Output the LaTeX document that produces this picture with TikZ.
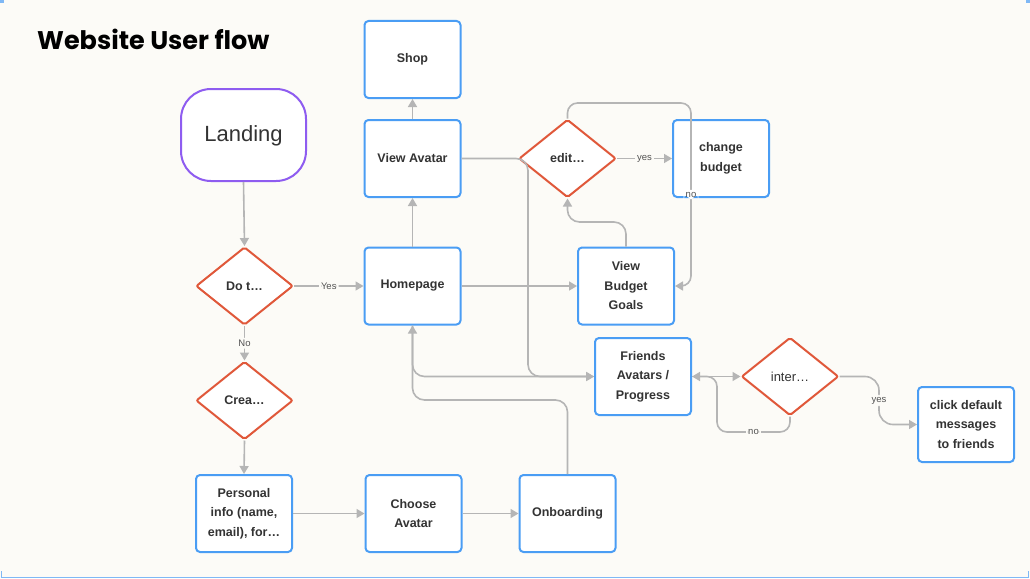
\documentclass[tikz,border=0pt]{standalone}
\usepackage{fontspec}
\setmainfont{Liberation Sans}
\newfontfamily\titlefont{Poppins}
\usetikzlibrary{shapes.geometric,arrows.meta}
\definecolor{bg}{HTML}{FCFBF7}
\definecolor{boxblue}{HTML}{4A9DF4}
\definecolor{dred}{HTML}{E0583A}
\definecolor{lpurple}{HTML}{8E5CF0}
\definecolor{edgegray}{HTML}{B5B5B5}
\definecolor{txt}{HTML}{333333}
\definecolor{frameblue}{HTML}{7FB8F5}
\begin{document}
\begin{tikzpicture}[x=1pt,y=-1pt,
  stepbox/.style={draw=boxblue,line width=2pt,fill=white,rounded corners=4pt,minimum width=96pt,minimum height=77pt,align=center,font=\fontsize{12.5}{19.5}\selectfont\bfseries,text=txt,inner sep=2pt},
  decision/.style={diamond,draw=dred,line width=2pt,fill=white,rounded corners=2pt,minimum width=97pt,minimum height=78pt,inner sep=0pt,font=\fontsize{12.5}{15}\selectfont\bfseries,text=txt},
  flow/.style={draw=edgegray,line width=1.6pt,rounded corners=12pt,-{Triangle[length=8pt,width=9pt]}},
  elabel/.style={fill=bg,font=\fontsize{9.5}{10}\selectfont,text=txt!85,inner sep=2pt}]
\useasboundingbox (0,0) rectangle (1030,578);
\fill[bg] (0,0) rectangle (1030,578);
% frame marks
\draw[frameblue,line width=1pt] (1.5,571) -- (1.5,577.5) -- (1028.5,577.5) -- (1028.5,571);
\fill[frameblue] (0,0) rectangle (4,3);
\fill[frameblue] (1026,0) rectangle (1030,3);
% title
\node[anchor=base west,inner sep=0pt,font=\titlefont\bfseries\fontsize{25.5}{30}\selectfont,text=black] (title) at (37,49.5) {Website User flow};
% nodes
\node[draw=lpurple,line width=2pt,fill=white,rounded corners=30pt,minimum width=125pt,minimum height=92pt,font=\fontsize{22}{26}\selectfont,text=txt,text depth=3pt] (land) at (243.5,135) {Landing};
\node[decision] (dot) at (244.5,286) {Do t…};
\node[decision] (crea) at (244.5,400.5) {Crea…};
\node[stepbox] (pers) at (244,513.5) {Personal\\info (name,\\email), for…};
\node[stepbox] (choose) at (413.5,513.5) {Choose\\Avatar};
\node[stepbox] (onb) at (567.5,513.5) {Onboarding};
\node[stepbox] (shop) at (412.5,59.5) {Shop};
\node[stepbox] (va) at (412.5,158.5) {View Avatar};
\node[stepbox] (home) at (412.5,286) {Homepage};
\node[decision] (edit) at (567.5,158.5) {edit…};
\node[stepbox] (chb) at (721,158.5) {change\\budget};
\node[stepbox] (vbg) at (626,286) {View\\Budget\\Goals};
\node[stepbox] (fr) at (643,376.5) {Friends\\Avatars /\\Progress};
\node[decision,font=\fontsize{13}{15}\selectfont] (inter) at (790,376.5) {inter…};
\node[stepbox,minimum height=75pt] (click) at (966,424.5) {click default\\messages\\to friends};
% connectors
\draw[flow] (land.south) -- (dot.north);
\draw[flow] (dot.east) -- node[elabel]{Yes} (home.west);
\draw[flow] (dot.south) -- node[elabel]{No} (crea.north);
\draw[flow] (crea.south) -- (pers.north);
\draw[flow] (pers.east) -- (choose.west);
\draw[flow] (choose.east) -- (onb.west);
\draw[flow] (onb.north) -- (567.5,400) -- (412.5,400) -- (home.south);
\draw[flow] (home.south) -- (412.5,376.5) -- (fr.west);
\draw[flow] (va.east) -- (528,158.5) -- (528,376.5) -- (fr.west);
\draw[flow] (home.east) -- (vbg.west);
\draw[flow] (home.north) -- (va.south);
\draw[flow] (va.north) -- (shop.south);
\draw[flow] (edit.east) -- node[elabel]{yes} (chb.west);
\draw[flow] (vbg.north) -- (626,222) -- (567.5,222) -- (edit.south);
\draw[flow,rounded corners=10pt] (edit.north) -- (567.5,103) -- (691,103) -- node[elabel,fill=white]{no} (691,286) -- (vbg.east);
\draw[flow] (fr.east) -- (inter.west);
\draw[flow,rounded corners=10pt] (inter.south) -- (790,432) -- node[elabel]{no} (717,432) -- (717,376.5) -- (fr.east);
\draw[flow,rounded corners=14pt] (inter.east) -- (879,376.5) -- node[elabel]{yes} (879,424.5) -- (click.west);
\end{tikzpicture}
\end{document}
